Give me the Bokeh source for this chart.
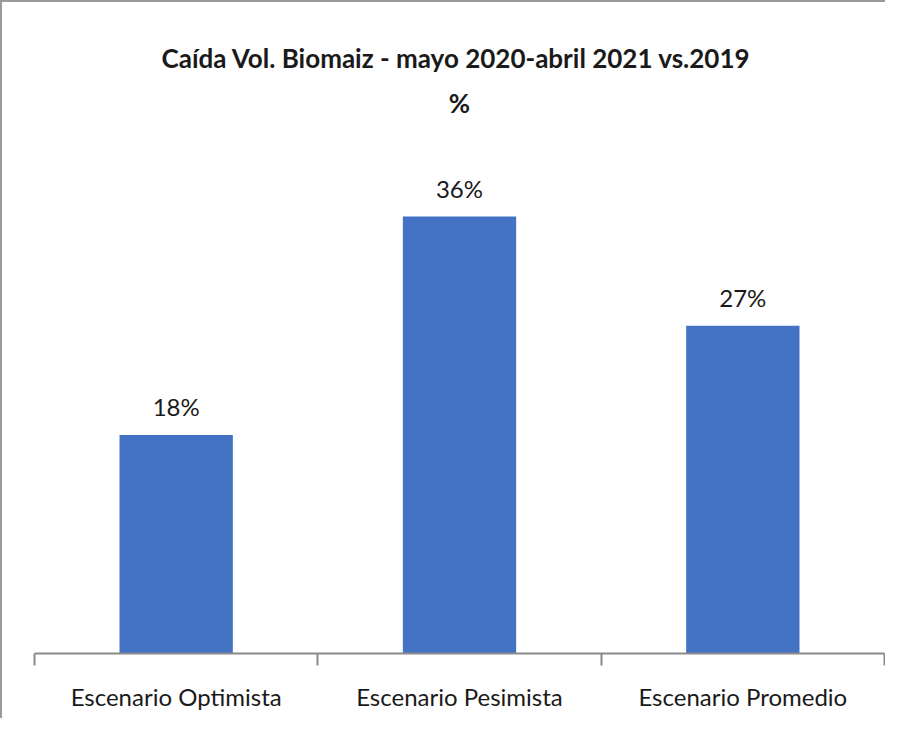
from bokeh.plotting import figure
from bokeh.models import ColumnDataSource, Title, LabelSet, Range1d, FixedTicker
from bokeh.core.properties import value
from bokeh.embed import file_html
from bokeh.resources import INLINE

categories = ["Escenario Optimista", "Escenario Pesimista", "Escenario Promedio"]
values = [18, 36, 27]
value_labels = ["18%", "36%", "27%"]
title_text = "Caída Vol. Biomaiz - mayo 2020-abril  2021 vs.2019"
subtitle_text = "%"

xs = [i + 0.5 for i in range(len(categories))]
src = ColumnDataSource(dict(x=xs, top=values, lab=value_labels))

FONT = "Lato"

p = figure(width=885, height=718, output_backend="svg", toolbar_location=None,
           x_range=Range1d(0, len(categories)), y_range=Range1d(0, 43.5),
           min_border_left=32, min_border_right=3, min_border_bottom=67, min_border_top=123,
           title=None)
p.styles = {"border-left": "2px solid #9a9a9a", "border-top": "2px solid #9a9a9a"}

p.add_layout(Title(text=subtitle_text, align="center", text_font=FONT, text_font_size="26px",
                   text_font_style="bold", text_color="#1a1a1a", standoff=13), "above")
p.add_layout(Title(text=title_text, align="center", text_font=FONT, text_font_size="26px",
                   text_font_style="bold", text_color="#1a1a1a", standoff=10), "above")

p.vbar(x="x", top="top", width=0.4, source=src, fill_color="#4472C4", line_color=None)

p.add_layout(LabelSet(x="x", y="top", text="lab", source=src, text_align="center",
                      text_baseline="alphabetic", y_offset=19, text_font=value(FONT),
                      text_font_size=value("24px"), text_color="#1a1a1a"))

p.yaxis.visible = False
p.grid.visible = False
p.outline_line_color = None

ax = p.xaxis[0]
ax.ticker = FixedTicker(ticks=xs, minor_ticks=list(range(len(categories) + 1)))
ax.major_label_overrides = {x: c for x, c in zip(xs, categories)}
ax.major_tick_line_color = None
ax.major_tick_out = 0
ax.major_tick_in = 0
ax.minor_tick_in = 0
ax.minor_tick_out = 12
ax.minor_tick_line_color = "#8a8a8a"
ax.minor_tick_line_width = 2
ax.axis_line_color = "#8a8a8a"
ax.axis_line_width = 2
ax.major_label_standoff = 16
ax.major_label_text_font = FONT
ax.major_label_text_font_size = "24px"
ax.major_label_text_color = "#1a1a1a"

open("out.html", "w").write(file_html(p, INLINE))
